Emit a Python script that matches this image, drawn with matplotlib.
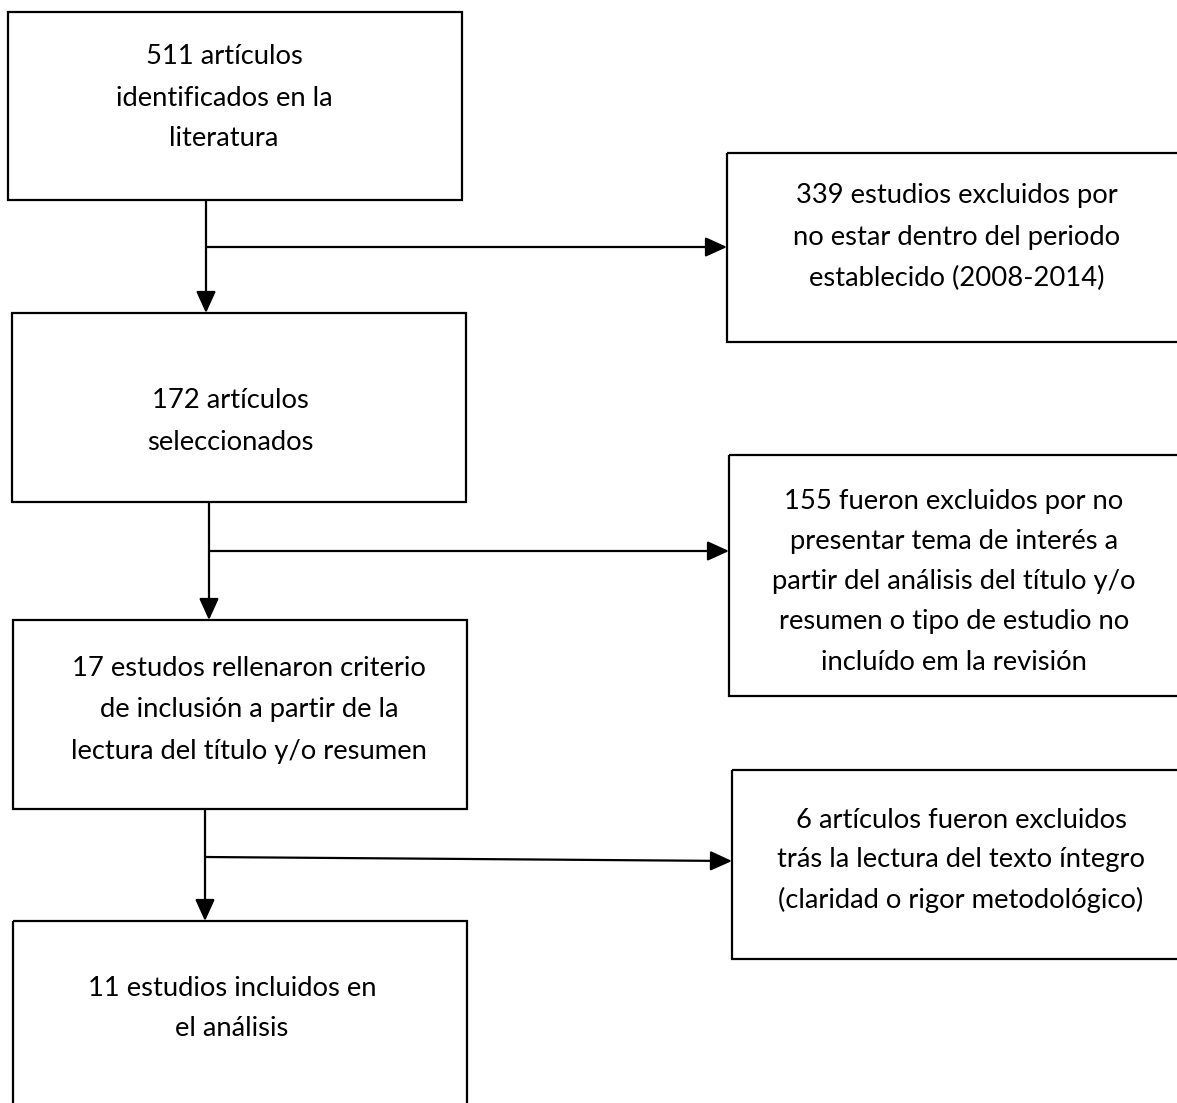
import matplotlib
matplotlib.use("Agg")
import matplotlib.pyplot as plt
from matplotlib.patches import Rectangle, FancyArrowPatch

plt.rcParams['font.family'] = ['Lato', 'DejaVu Sans']

# texts of the main (left) boxes
main_labels = [
    ["511 artículos", "identificados en la", "literatura"],
    ["172 artículos", "seleccionados"],
    ["17 estudos rellenaron criterio", "de inclusión a partir de la",
     "lectura del título y/o resumen"],
    ["11 estudios incluidos en", "el análisis"],
]

# texts of the exclusion (right) boxes
excl_labels = [
    ["339 estudios excluidos por", "no estar dentro del periodo",
     "establecido (2008-2014)"],
    ["155 fueron excluidos por no", "presentar tema de interés a",
     "partir del análisis del título y/o", "resumen o tipo de estudio no",
     "incluído em la revisión"],
    ["6 artículos fueron excluidos", "trás la lectura del texto íntegro",
     "(claridad o rigor metodológico)"],
]

# layout in pixels (x0, y0, x1, y1), y grows downward
main_boxes = [(8, 12, 462, 200), (12, 313, 466, 502),
              (13, 620, 467, 809), (13, 921, 467, 1115)]
excl_boxes = [(727, 153, 1185, 342), (729, 455, 1185, 696),
              (732, 770, 1185, 959)]
main_text_pos = [(224, 57), (230, 401), (249, 669), (232, 989)]
excl_text_pos = [(957, 196), (954, 502), (961, 820)]
main_step = [41, 41, 41, 40]
excl_step = [41, 40, 40]
down_x = [206, 209, 205]
branch = [((206, 247), (727, 247)), ((209, 551), (729, 551)),
          ((205, 857), (732, 861))]

W, H = 1177, 1103
fig = plt.figure(figsize=(W / 100, H / 100), dpi=100)
ax = fig.add_axes([0, 0, 1, 1])
ax.set_xlim(0, W)
ax.set_ylim(H, 0)
ax.axis('off')

lw = 1.6
fs = 19.7

for (x0, y0, x1, y1) in main_boxes + excl_boxes:
    ax.add_patch(Rectangle((x0, y0), x1 - x0, y1 - y0, fill=False,
                           edgecolor='black', linewidth=lw))

for lines, (cx, cy), step in zip(main_labels, main_text_pos, main_step):
    for i, s in enumerate(lines):
        ax.text(cx, cy + i * step, s, ha='center', va='center', fontsize=fs,
                color='black')

for lines, (cx, cy), step in zip(excl_labels, excl_text_pos, excl_step):
    for i, s in enumerate(lines):
        ax.text(cx, cy + i * step, s, ha='center', va='center', fontsize=fs,
                color='black')

arrow_kw = dict(arrowstyle='-|>,head_length=1.1,head_width=0.5',
                color='black', linewidth=lw, shrinkA=0, shrinkB=0,
                mutation_scale=12)

for i, x in enumerate(down_x):
    y_start = main_boxes[i][3]
    y_end = main_boxes[i + 1][1]
    ax.add_patch(FancyArrowPatch((x, y_start), (x, y_end), **arrow_kw))

for (p0, p1) in branch:
    ax.add_patch(FancyArrowPatch(p0, p1, **arrow_kw))

fig.savefig('out.png', dpi=100, facecolor='white')
